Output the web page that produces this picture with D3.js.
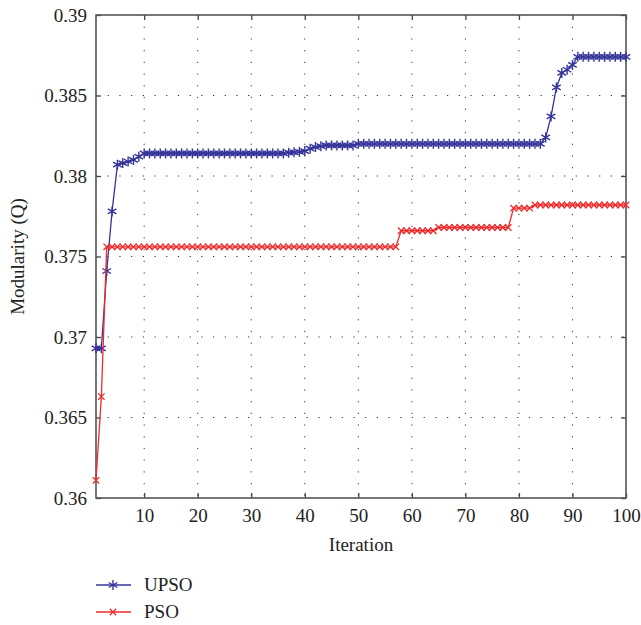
<!DOCTYPE html>
<html>
<head>
<meta charset="utf-8">
<script src="https://cdn.jsdelivr.net/npm/d3@7"></script>
<style>
  body { margin: 0; background: #fff; }
  svg text { fill: #222; }
  .grid line { stroke: #333; stroke-width: 1; stroke-dasharray: 1.2,10.5; }
</style>
</head>
<body>
<div id="viz_container"></div>
<script>
// data, one value per iteration (1..100)
const upso = [
  0.3693, 0.3693, 0.3741, 0.3778, 0.3807, 0.3808, 0.3809, 0.3810, 0.3812, 0.3814,
  0.3814, 0.3814, 0.3814, 0.3814, 0.3814, 0.3814, 0.3814, 0.3814, 0.3814, 0.3814,
  0.3814, 0.3814, 0.3814, 0.3814, 0.3814, 0.3814, 0.3814, 0.3814, 0.3814, 0.3814,
  0.3814, 0.3814, 0.3814, 0.3814, 0.3814, 0.3814, 0.38145, 0.38147, 0.3815, 0.38155,
  0.3817, 0.3818, 0.38185, 0.3819, 0.3819, 0.3819, 0.3819, 0.3819, 0.3819, 0.3820,
  0.3820, 0.3820, 0.3820, 0.3820, 0.3820, 0.3820, 0.3820, 0.3820, 0.3820, 0.3820,
  0.3820, 0.3820, 0.3820, 0.3820, 0.3820, 0.3820, 0.3820, 0.3820, 0.3820, 0.3820,
  0.3820, 0.3820, 0.3820, 0.3820, 0.3820, 0.3820, 0.3820, 0.3820, 0.3820, 0.3820,
  0.3820, 0.3820, 0.3820, 0.3820, 0.3824, 0.3837, 0.3855, 0.3864, 0.3866, 0.3869,
  0.3874, 0.3874, 0.3874, 0.3874, 0.3874, 0.3874, 0.3874, 0.3874, 0.3874, 0.3874
];
const pso = [
  0.3611, 0.3663, 0.3756, 0.3756, 0.3756, 0.3756, 0.3756, 0.3756, 0.3756, 0.3756,
  0.3756, 0.3756, 0.3756, 0.3756, 0.3756, 0.3756, 0.3756, 0.3756, 0.3756, 0.3756,
  0.3756, 0.3756, 0.3756, 0.3756, 0.3756, 0.3756, 0.3756, 0.3756, 0.3756, 0.3756,
  0.3756, 0.3756, 0.3756, 0.3756, 0.3756, 0.3756, 0.3756, 0.3756, 0.3756, 0.3756,
  0.3756, 0.3756, 0.3756, 0.3756, 0.3756, 0.3756, 0.3756, 0.3756, 0.3756, 0.3756,
  0.3756, 0.3756, 0.3756, 0.3756, 0.3756, 0.3756, 0.3756, 0.3766, 0.3766, 0.3766,
  0.3766, 0.3766, 0.3766, 0.3766, 0.3768, 0.3768, 0.3768, 0.3768, 0.3768, 0.3768,
  0.3768, 0.3768, 0.3768, 0.3768, 0.3768, 0.3768, 0.3768, 0.3768, 0.3780, 0.3780,
  0.3780, 0.3780, 0.3782, 0.3782, 0.3782, 0.3782, 0.3782, 0.3782, 0.3782, 0.3782,
  0.3782, 0.3782, 0.3782, 0.3782, 0.3782, 0.3782, 0.3782, 0.3782, 0.3782, 0.3782
];
const xTicks = [10, 20, 30, 40, 50, 60, 70, 80, 90, 100];
const yTicks = [0.36, 0.365, 0.37, 0.375, 0.38, 0.385, 0.39];
const seriesNames = ["UPSO", "PSO"];
const seriesColors = ["#34349a", "#ee2a2a"];

const W = 641, H = 625;
const margin = { top: 15, right: 15, bottom: 127, left: 96 };
const width = W - margin.left - margin.right;
const height = H - margin.top - margin.bottom;
const font = "Liberation Serif, Times New Roman, serif";
const fs = "19px";

const svg = d3.select("#viz_container")
  .append("svg")
  .attr("width", W)
  .attr("height", H);
const g = svg.append("g")
  .attr("transform", `translate(${margin.left},${margin.top})`);

const x = d3.scaleLinear().domain([1, 100]).range([0, width]);
const y = d3.scaleLinear().domain([0.36, 0.39]).range([height, 0]);

// dotted grid
g.append("g")
  .attr("class", "grid")
  .selectAll("line")
  .data(xTicks.filter(d => d < 100))
  .join("line")
  .attr("x1", d => x(d)).attr("x2", d => x(d))
  .attr("y1", 0).attr("y2", height);
g.append("g")
  .attr("class", "grid")
  .selectAll("line")
  .data(yTicks.filter(d => d > 0.36 && d < 0.39))
  .join("line")
  .attr("x1", 0).attr("x2", width)
  .attr("y1", d => y(d)).attr("y2", d => y(d));

// axes with inward ticks
const fmtY = d => String(+d.toFixed(3));
const axStyle = sel => {
  sel.attr("font-family", font).attr("font-size", fs);
  sel.select(".domain").remove();
  sel.selectAll(".tick line").attr("stroke", "#444").attr("stroke-width", 1.3);
  sel.selectAll("text").attr("fill", "#222");
};
g.append("g")
  .attr("transform", `translate(0,${height})`)
  .call(d3.axisBottom(x).tickValues(xTicks).tickSize(-5).tickPadding(11))
  .call(axStyle);
g.append("g")
  .call(d3.axisLeft(y).tickValues(yTicks).tickFormat(fmtY).tickSize(-5).tickPadding(9))
  .call(axStyle);
g.append("g")
  .call(d3.axisTop(x).tickValues(xTicks).tickSize(-5).tickFormat(""))
  .call(axStyle);
g.append("g")
  .attr("transform", `translate(${width},0)`)
  .call(d3.axisRight(y).tickValues(yTicks).tickSize(-5).tickFormat(""))
  .call(axStyle);

// box
g.append("rect")
  .attr("x", 0).attr("y", 0)
  .attr("width", width).attr("height", height)
  .attr("fill", "none")
  .attr("stroke", "#555")
  .attr("stroke-width", 1.6);

// markers
const star = (sel, c) => {
  const r = 5;
  [0, 60, 120].forEach(a => {
    const rad = a * Math.PI / 180;
    sel.append("line")
      .attr("x1", -r * Math.sin(rad)).attr("y1", -r * Math.cos(rad))
      .attr("x2", r * Math.sin(rad)).attr("y2", r * Math.cos(rad))
      .attr("stroke", c).attr("stroke-width", 1.4);
  });
};
const cross = (sel, c) => {
  const r = 3.2;
  sel.append("path")
    .attr("d", `M${-r},${-r}L${r},${r}M${-r},${r}L${r},${-r}`)
    .attr("stroke", c).attr("stroke-width", 1.3).attr("fill", "none");
};
const markers = [star, cross];

const line = d3.line()
  .x((d, i) => x(i + 1))
  .y(d => y(d));

[upso, pso].forEach((vals, k) => {
  g.append("path")
    .datum(vals)
    .attr("fill", "none")
    .attr("stroke", seriesColors[k])
    .attr("stroke-width", 1.3)
    .attr("d", line);
  g.append("g")
    .selectAll("g")
    .data(vals)
    .join("g")
    .attr("transform", (d, i) => `translate(${x(i + 1)},${y(d)})`)
    .each(function () { markers[k](d3.select(this), seriesColors[k]); });
});

// axis titles
const labels = svg.append("g")
  .attr("font-family", font)
  .attr("font-size", fs);
labels.append("text")
  .attr("x", margin.left + width / 2)
  .attr("y", 551)
  .attr("text-anchor", "middle")
  .text("Iteration");
labels.append("text")
  .attr("transform", `translate(24,${margin.top + height / 2}) rotate(-90)`)
  .attr("text-anchor", "middle")
  .text("Modularity (Q)");

// legend
seriesNames.forEach((name, k) => {
  const ly = 585 + k * 27;
  svg.append("line")
    .attr("x1", 96).attr("x2", 131)
    .attr("y1", ly).attr("y2", ly)
    .attr("stroke", seriesColors[k]).attr("stroke-width", 1.3);
  const m = svg.append("g").attr("transform", `translate(113,${ly})`);
  markers[k](m, seriesColors[k]);
  labels.append("text")
    .attr("x", 144)
    .attr("y", ly + 6)
    .text(name);
});
</script>
</body>
</html>
